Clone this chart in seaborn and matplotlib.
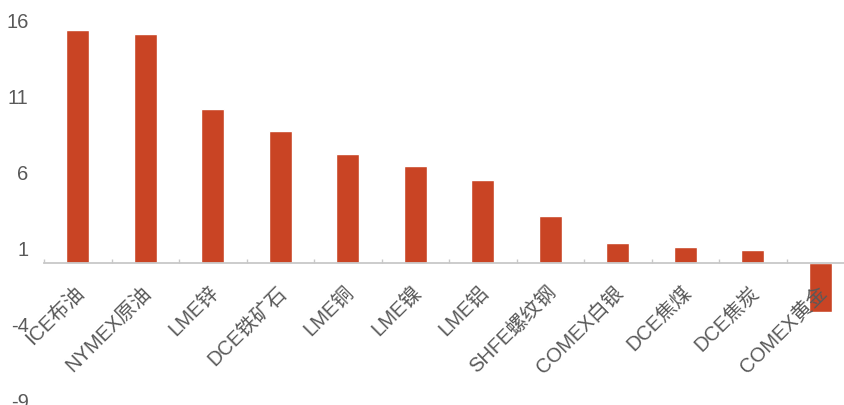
import matplotlib
matplotlib.use("Agg")
import matplotlib.pyplot as plt
import matplotlib.transforms as mtransforms
from matplotlib.ticker import FixedLocator
import seaborn as sns
import pandas as pd

categories = ["ICE布油", "NYMEX原油", "LME锌", "DCE铁矿石", "LME铜", "LME镍",
              "LME铝", "SHFE螺纹钢", "COMEX白银", "DCE焦煤", "DCE焦炭", "COMEX黄金"]
values = [15.35, 15.1, 10.13, 8.68, 7.17, 6.38, 5.46, 3.09, 1.36, 1.07, 0.9, -3.2]
yticks = [16, 11, 6, 1, -4, -9]

sns.set_theme(style="white")
plt.rcParams["font.family"] = ["Liberation Sans", "Noto Sans CJK SC", "DejaVu Sans"]
plt.rcParams["axes.unicode_minus"] = False

df = pd.DataFrame({"cat": categories, "val": values})

fig = plt.figure(figsize=(8.45, 4.05), dpi=100)
ax = fig.add_axes([44 / 845, 5 / 405, 810 / 845, 380 / 405])

sns.barplot(data=df, x="cat", y="val", color="#c94424", saturation=1,
            width=0.34, ax=ax)

ax.set_ylim(-9, 16)
ax.set_xlim(-0.5, len(categories) - 0.5)
ax.set_yticks(yticks)
ax.set_xlabel("")
ax.set_ylabel("")
ax.set_axisbelow(False)

for s in ["top", "right", "left"]:
    ax.spines[s].set_visible(False)
ax.spines["bottom"].set_position(("data", 0))
ax.spines["bottom"].set_color("#c8c8c8")
ax.spines["bottom"].set_linewidth(1.3)

ax.xaxis.set_minor_locator(FixedLocator([i - 0.5 for i in range(len(categories) + 1)]))
ax.tick_params(axis="x", which="minor", direction="in", length=3, width=1,
               color="#c8c8c8", bottom=True)
ax.tick_params(axis="x", which="major", length=0, pad=19, labelsize=14.5,
               labelcolor="#595959")
ax.tick_params(axis="y", length=0, pad=11, labelsize=14.5, labelcolor="#595959")

offset = mtransforms.ScaledTranslation(3 / 100, 0, fig.dpi_scale_trans)
for lbl in ax.get_xticklabels():
    lbl.set_rotation(45)
    lbl.set_ha("right")
    lbl.set_va("center")
    lbl.set_rotation_mode("anchor")
    lbl.set_transform(lbl.get_transform() + offset)

ax.grid(False)
fig.savefig("out.png", dpi=100)
